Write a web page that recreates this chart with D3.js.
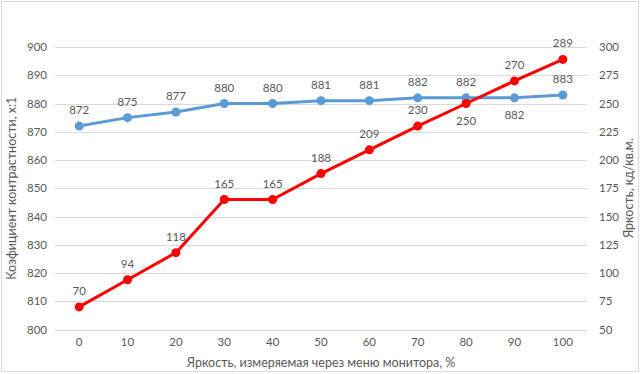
<!DOCTYPE html>
<html><head><meta charset="utf-8">
<script src="https://cdn.jsdelivr.net/npm/d3@7"></script>
<style>body{margin:0;background:#fff}svg{display:block}text{font-family:Lato,"Open Sans",sans-serif;fill:#595959}</style>
</head><body>
<script>
const categories = [0,10,20,30,40,50,60,70,80,90,100];
const contrast = [872,875,877,880,880,881,881,882,882,882,883];
const brightness = [70,94,118,165,165,188,209,230,250,270,289];
const leftTicks = [800,810,820,830,840,850,860,870,880,890,900];
const rightTicks = [50,75,100,125,150,175,200,225,250,275,300];
const contrastLabelBelow = [false,false,false,false,false,false,false,false,false,true,false];
const brightLabelBelow = [false,false,false,false,false,false,false,false,true,false,false];
const xTitle = "Яркость, измеряемая через меню монитора, %";
const yLeftTitle = "Коэфициент контрастности, х:1";
const yRightTitle = "Яркость, кд/кв.м.";

const W=640,H=374;
const m={l:55,r:53,t:47,b:44.5};
const svg=d3.select("body").append("svg").attr("width",W).attr("height",H);
svg.append("rect").attr("x",1.5).attr("y",1.5).attr("width",W-3).attr("height",H-4).attr("fill","#fff").attr("stroke","#d9d9d9");

const x=d3.scaleBand().domain(categories).range([m.l,W-m.r]);
const yL=d3.scaleLinear().domain([800,900]).range([H-m.b,m.t]);
const yR=d3.scaleLinear().domain([50,300]).range([H-m.b,m.t]);
const cx=d=>x(d)+x.bandwidth()/2;

// gridlines
svg.append("g").selectAll("line").data(leftTicks).join("line")
 .attr("x1",m.l).attr("x2",W-m.r).attr("y1",d=>Math.round(yL(d))+0.5).attr("y2",d=>Math.round(yL(d))+0.5)
 .attr("stroke","#d9d9d9");

// axes
const gl=svg.append("g").attr("transform",`translate(${m.l-8},0)`).call(d3.axisLeft(yL).tickValues(leftTicks).tickSize(0).tickPadding(0));
const gr=svg.append("g").attr("transform",`translate(${W-m.r+12},0)`).call(d3.axisRight(yR).tickValues(rightTicks).tickSize(0).tickPadding(0));
const gb=svg.append("g").attr("transform",`translate(0,${H-m.b+8})`).call(d3.axisBottom(x).tickSize(0).tickPadding(0));
[gl,gr,gb].forEach(g=>{g.select(".domain").remove();g.selectAll("text").attr("font-size",11.5).attr("font-family","Lato").attr("fill","#595959");});
gb.selectAll("text").attr("dy","0.71em");

// titles
svg.append("text").attr("x",(m.l+W-m.r)/2).attr("y",367).attr("text-anchor","middle").attr("font-size",12.5).text(xTitle);
svg.append("text").attr("transform",`translate(16,${(m.t+H-m.b)/2}) rotate(-90)`).attr("text-anchor","middle").attr("font-size",12.5).text(yLeftTitle);
svg.append("text").attr("transform",`translate(633,${(m.t+H-m.b)/2}) rotate(-90)`).attr("text-anchor","middle").attr("font-size",12.5).text(yRightTitle);

function series(vals,y,color,below){
  const line=d3.line().x((d,i)=>cx(categories[i])).y(d=>y(d));
  svg.append("path").datum(vals).attr("d",line).attr("fill","none").attr("stroke",color).attr("stroke-width",3).attr("stroke-linejoin","round");
  svg.append("g").selectAll("circle").data(vals).join("circle")
   .attr("cx",(d,i)=>cx(categories[i])).attr("cy",d=>y(d)).attr("r",4.5).attr("fill",color);
  svg.append("g").selectAll("text").data(vals).join("text")
   .attr("x",(d,i)=>cx(categories[i])).attr("y",(d,i)=>y(d)+(below[i]?17:-16)).attr("dy","0.35em")
   .attr("text-anchor","middle").attr("font-size",11.5).text(d=>d);
}
series(contrast,yL,"#5b9bd5",contrastLabelBelow);
series(brightness,yR,"#ff0000",brightLabelBelow);
</script>
</body></html>
